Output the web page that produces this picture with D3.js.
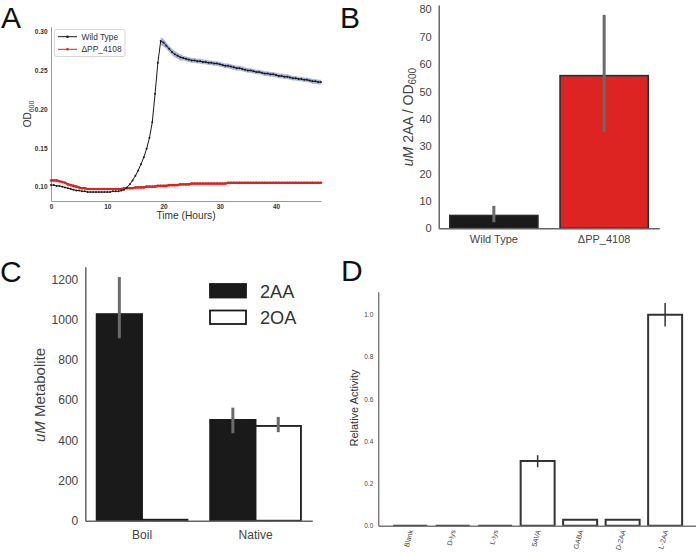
<!DOCTYPE html>
<html><head><meta charset="utf-8">
<script src="https://cdn.jsdelivr.net/npm/d3@7"></script>
<style>body{margin:0;background:#fff} svg{display:block} text{font-family:"Liberation Sans",Arial,sans-serif}</style>
</head><body><svg id="c" width="696" height="555"></svg>
<script>
// ---------- Panel A data ----------
const hours = [0,0.5,1,1.5,2,2.5,3,3.5,4,4.5,5,5.5,6,6.5,7,7.5,8,8.5,9,9.5,10,10.5,11,11.5,12,12.5,13,13.5,14,14.5,15,15.5,16,16.5,17,17.5,18,18.5,19,19.5,20,20.5,21,21.5,22,22.5,23,23.5,24,24.5,25,25.5,26,26.5,27,27.5,28,28.5,29,29.5,30,30.5,31,31.5,32,32.5,33,33.5,34,34.5,35,35.5,36,36.5,37,37.5,38,38.5,39,39.5,40,40.5,41,41.5,42,42.5,43,43.5,44,44.5,45,45.5,46,46.5,47,47.5,48];
const wildType = [0.102,0.102,0.101,0.101,0.100,0.099,0.098,0.097,0.096,0.095,
 0.095,0.094,0.094,0.093,0.093,0.093,0.093,0.093,0.093,0.093,
 0.093,0.093,0.094,0.094,0.094,0.095,0.096,0.099,0.103,0.108,
 0.114,0.121,0.129,0.138,0.149,0.163,0.183,0.220,0.260,0.288,
 0.286,0.282,0.278,0.274,0.271,0.269,0.267,0.266,0.265,0.264,
 0.263,0.263,0.262,0.262,0.261,0.261,0.260,0.260,0.259,0.259,
 0.258,0.257,0.256,0.256,0.255,0.254,0.253,0.253,0.252,0.251,
 0.250,0.250,0.249,0.248,0.248,0.247,0.246,0.246,0.245,0.245,
 0.244,0.243,0.243,0.242,0.242,0.241,0.240,0.240,0.239,0.239,
 0.238,0.238,0.237,0.236,0.236,0.235,0.235];
const wildTypeSd = [0,0,0,0,0,0,0,0,0,0,0,0,0,0,0,0,0,0,0,0,0,0,0,0,0,0,0,0,0,0,0,0,0,0,0,0,0,0,0,
 0.005,0.005,0.004,0.004,0.004,0.004,0.004,0.004,
 0.003,0.003,0.003,0.003,0.003,0.003,0.003,0.003,0.003,0.003,0.003,0.003,0.003,0.003,0.003,0.003,0.003,0.003,0.003,0.003,0.003,0.003,0.003,0.003,0.003,
 0.003,0.003,0.003,0.003,0.003,0.003,0.003,0.003,0.003,0.003,0.003,0.003,0.003,0.003,0.003,0.003,0.003,0.003,0.003,0.003,0.003,0.003,0.003,0.003,0.003];
const deltaPP = [0.108,0.108,0.108,0.107,0.106,0.105,0.103,0.102,0.101,0.100,
 0.099,0.098,0.098,0.097,0.097,0.097,0.097,0.097,0.097,0.097,
 0.097,0.097,0.097,0.097,0.097,0.097,0.098,0.098,0.098,0.098,
 0.099,0.099,0.099,0.099,0.100,0.100,0.100,0.100,0.101,0.101,
 0.101,0.101,0.102,0.102,0.102,0.102,0.103,0.103,0.103,0.103,
 0.104,0.104,0.104,0.104,0.104,0.104,0.104,0.104,0.104,0.104,
 0.104,0.104,0.104,0.105,0.105,0.105,0.105,0.105,0.105,0.105,
 0.105,0.105,0.105,0.105,0.105,0.105,0.105,0.105,0.105,0.105,
 0.105,0.105,0.105,0.105,0.105,0.105,0.105,0.105,0.105,0.105,
 0.105,0.105,0.105,0.105,0.105,0.105,0.105];
const growthSeries = ["Wild Type","ΔPP_4108"];
const growthYTicks = [0.10,0.15,0.20,0.25,0.30];
const growthXTicks = [0,10,20,30,40];

// ---------- Panel B data ----------
const strains = ["Wild Type","ΔPP_4108"];
const strain2AA = [4.7, 55.8];
const strain2AALow = [2.2, 35.3];
const strain2AAHigh = [8.2, 78.0];
const strainTicks = [0,10,20,30,40,50,60,70,80];

// ---------- Panel C data ----------
const treatments = ["Boil","Native"];
const metabolites = ["2AA","2OA"];
const metab2AA = [1027, 501];
const metab2AALow = [907, 435];
const metab2AAHigh = [1211, 562];
const metab2OA = [5, 471];
const metab2OALow = [5, 440];
const metab2OAHigh = [5, 516];
const metabTicks = [0,200,400,600,800,1000,1200];

// ---------- Panel D data ----------
const substrates = ["Blank","D-lys","L-lys","5AVA","GABA","D-2AA","L-2AA"];
const activity = [0, 0, 0, 0.307, 0.028, 0.028, 1.0];
const activityLow = [0, 0, 0, 0.277, 0.028, 0.028, 0.944];
const activityHigh = [0, 0, 0, 0.334, 0.028, 0.028, 1.055];
const activityTicks = [0.0,0.2,0.4,0.6,0.8,1.0];

const svg = d3.select("#c");

function styleAxis(g, fs, color, domColor, domW){
  g.selectAll(".tick text").attr("font-size", fs).attr("fill", color).attr("font-family","Liberation Sans, Arial, sans-serif");
  g.select(".domain").attr("stroke", domColor).attr("stroke-width", domW);
}

// Panel letters
const letters = [["A",1,28],["B",340,28],["C",0,282],["D",341,281]];
svg.selectAll("text.letter").data(letters).join("text").attr("class","letter")
  .attr("x",d=>d[1]).attr("y",d=>d[2]).text(d=>d[0])
  .attr("font-family","Liberation Sans, Arial, sans-serif").attr("font-size",30).attr("fill","#111");

// ===== Panel A =====
{
  const x = d3.scaleLinear().domain([0,48]).range([51,321]);
  const y = d3.scaleLinear().domain([0.0815,0.3065]).range([201,26.7]);
  const g = svg.append("g");
  const gy = g.append("g").attr("transform","translate(51,0)")
    .call(d3.axisLeft(y).tickValues(growthYTicks).tickSize(0).tickPadding(3.5).tickFormat(d3.format(".2f")));
  styleAxis(gy, 6.5, "#333", "#999", 1);
  gy.selectAll(".tick text").attr("font-weight","bold");
  const gx = g.append("g").attr("transform","translate(0,201)")
    .call(d3.axisBottom(x).tickValues(growthXTicks).tickSize(0).tickPadding(3.5));
  styleAxis(gx, 6.5, "#333", "#999", 1);
  gx.selectAll(".tick text").attr("font-weight","bold");

  const band = hours.map((h,i)=>({h, lo: wildType[i]-wildTypeSd[i], hi: wildType[i]+wildTypeSd[i], s: wildTypeSd[i]})).filter(d=>d.s>0);
  g.append("path").datum(band)
    .attr("d", d3.area().x(d=>x(d.h)).y0(d=>y(d.lo)).y1(d=>y(d.hi)))
    .attr("fill","#8c9ed6").attr("opacity",0.75);

  const series = [
    {name: growthSeries[0], vals: wildType, color:"#1a1a1a", w:1, r:1},
    {name: growthSeries[1], vals: deltaPP, color:"#e3221c", w:2.2, r:1.3}
  ];
  series.slice().reverse().forEach(s=>{
    const pts = hours.map((h,i)=>[h, s.vals[i]]);
    g.append("path").datum(pts).attr("fill","none").attr("stroke",s.color).attr("stroke-width",s.w)
      .attr("d", d3.line().x(d=>x(d[0])).y(d=>y(d[1])));
    g.append("g").selectAll("circle").data(pts).join("circle")
      .attr("cx",d=>x(d[0])).attr("cy",d=>y(d[1])).attr("r",s.r).attr("fill",s.color);
  });
  // legend
  const lg = g.append("g");
  lg.append("rect").attr("x",54.5).attr("y",29.5).attr("width",70.5).attr("height",27).attr("rx",2)
    .attr("fill","#fff").attr("stroke","#ccc").attr("stroke-width",0.8);
  series.forEach((s,i)=>{
    const yy = 36.7 + i*12.6;
    lg.append("line").attr("x1",58).attr("x2",77).attr("y1",yy).attr("y2",yy).attr("stroke",s.color).attr("stroke-width",1);
    lg.append("circle").attr("cx",67.5).attr("cy",yy).attr("r",1.3).attr("fill",s.color);
    lg.append("text").attr("x",81.5).attr("y",yy+3).text(s.name).attr("font-size",8.4).attr("fill","#333");
  });
  g.append("text").attr("x",186).attr("y",218.5).attr("text-anchor","middle").attr("font-size",10.2).attr("fill","#333").text("Time (Hours)");
  const yl = g.append("text").attr("transform","translate(31,114) rotate(-90)").attr("text-anchor","middle").attr("font-size",10).attr("fill","#333");
  yl.append("tspan").text("OD");
  yl.append("tspan").attr("font-size",7).attr("dy",2.5).text("600");
}

// ===== Panel B =====
{
  const x = d3.scaleBand().domain(strains).range([438.7,659.3]).paddingInner(0.2).paddingOuter(0.1);
  const y = d3.scaleLinear().domain([0,81.6]).range([228.3,5]);
  const g = svg.append("g");
  const colors = ["#1a1a1a","#de2323"];
  g.append("g").selectAll("rect").data(strains).join("rect")
    .attr("x",d=>x(d)).attr("width",x.bandwidth())
    .attr("y",(d,i)=>y(strain2AA[i])).attr("height",(d,i)=>y(0)-y(strain2AA[i]))
    .attr("fill",(d,i)=>colors[i]).attr("stroke","#2a2a2a").attr("stroke-width",1.5);
  g.append("g").selectAll("line").data(strains).join("line")
    .attr("x1",d=>x(d)+x.bandwidth()/2).attr("x2",d=>x(d)+x.bandwidth()/2)
    .attr("y1",(d,i)=>y(strain2AALow[i])).attr("y2",(d,i)=>y(strain2AAHigh[i]))
    .attr("stroke","#6b6b6b").attr("stroke-width",3);
  const gy = g.append("g").attr("transform","translate(438.7,0)")
    .call(d3.axisLeft(y).tickValues(strainTicks).tickSize(0).tickPadding(7));
  styleAxis(gy, 11, "#444", "#666", 1.5);
  const gx = g.append("g").attr("transform","translate(0,228.3)")
    .call(d3.axisBottom(x).tickSize(0).tickPadding(7));
  styleAxis(gx, 11, "#444", "#666", 1.5);
  const yl = g.append("text").attr("transform","translate(413,117) rotate(-90)").attr("text-anchor","middle").attr("font-size",14).attr("fill","#444");
  yl.append("tspan").attr("font-style","italic").text("uM");
  yl.append("tspan").text(" 2AA / OD");
  yl.append("tspan").attr("font-size",10).attr("dy",3).text("600");
}

// ===== Panel C =====
{
  const x0 = d3.scaleBand().domain(treatments).range([85.3,312.3]).paddingInner(0.2).paddingOuter(0.1);
  const x1 = d3.scaleBand().domain(metabolites).range([0,x0.bandwidth()]);
  const y = d3.scaleLinear().domain([0,1262.6]).range([520.7,266.7]);
  const g = svg.append("g");
  const vals = [metab2AA, metab2OA], lows = [metab2AALow, metab2OALow], highs = [metab2AAHigh, metab2OAHigh];
  const fills = ["#1a1a1a","#ffffff"];
  const rows = [];
  treatments.forEach((t,ti)=>metabolites.forEach((m,mi)=>rows.push({t,m,mi,v:vals[mi][ti],lo:lows[mi][ti],hi:highs[mi][ti]})));
  g.append("g").selectAll("rect").data(rows).join("rect")
    .attr("x",d=>x0(d.t)+x1(d.m)).attr("width",x1.bandwidth())
    .attr("y",d=>y(d.v)).attr("height",d=>y(0)-y(d.v))
    .attr("fill",d=>fills[d.mi]).attr("stroke","#1a1a1a").attr("stroke-width",1.8);
  g.append("g").selectAll("line").data(rows.filter(d=>d.hi>d.lo)).join("line")
    .attr("x1",d=>x0(d.t)+x1(d.m)+x1.bandwidth()/2).attr("x2",d=>x0(d.t)+x1(d.m)+x1.bandwidth()/2)
    .attr("y1",d=>y(d.lo)).attr("y2",d=>y(d.hi)).attr("stroke","#6b6b6b").attr("stroke-width",3);
  const gy = g.append("g").attr("transform","translate(85.3,0)")
    .call(d3.axisLeft(y).tickValues(metabTicks).tickSize(0).tickPadding(7).tickFormat(d3.format("d")));
  styleAxis(gy, 12, "#444", "#666", 1.5);
  const gx = g.append("g").attr("transform","translate(0,520.7)")
    .call(d3.axisBottom(x0).tickSize(0).tickPadding(10));
  styleAxis(gx, 12, "#444", "#666", 1.5);
  const yl = g.append("text").attr("transform","translate(45,395) rotate(-90)").attr("text-anchor","middle").attr("font-size",15).attr("fill","#444");
  yl.append("tspan").attr("font-style","italic").text("uM");
  yl.append("tspan").text(" Metabolite");
  // legend
  const lg = g.append("g");
  metabolites.forEach((m,i)=>{
    const yy = 284 + i*26.5;
    lg.append("rect").attr("x",210).attr("y",yy).attr("width",36).attr("height",13.5)
      .attr("fill",fills[i]).attr("stroke","#1a1a1a").attr("stroke-width",1.8);
    lg.append("text").attr("x",260).attr("y",yy+13.5).text(m).attr("font-size",18.2).attr("fill","#333");
  });
}

// ===== Panel D =====
{
  const x = d3.scaleBand().domain(substrates).range([378.3,697]).paddingInner(0.2).paddingOuter(0.35);
  const y = d3.scaleLinear().domain([0,1.109]).range([525.7,291.7]);
  const g = svg.append("g");
  const rows = substrates.map((s,i)=>({s, v:activity[i], lo:activityLow[i], hi:activityHigh[i]}));
  g.append("g").selectAll("path").data(rows).join("path")
    .attr("d",d=>{const x0=x(d.s), w=x.bandwidth(), y0=y(0), y1=y(d.v); return `M${x0},${y0}V${y1}H${x0+w}V${y0}Z`;})
    .attr("fill","#fff").attr("stroke","#333").attr("stroke-width",2);
  g.append("g").selectAll("line").data(rows.filter(d=>d.hi>d.lo)).join("line")
    .attr("x1",d=>x(d.s)+x.bandwidth()/2).attr("x2",d=>x(d.s)+x.bandwidth()/2)
    .attr("y1",d=>y(d.lo)).attr("y2",d=>y(d.hi)).attr("stroke","#333").attr("stroke-width",1.5);
  const gy = g.append("g").attr("transform","translate(378.3,0)")
    .call(d3.axisLeft(y).tickValues(activityTicks).tickSize(0).tickPadding(5).tickFormat(d3.format(".1f")));
  styleAxis(gy, 6.5, "#444", "#444", 1);
  const gx = g.append("g").attr("transform","translate(0,525.7)")
    .call(d3.axisBottom(x).tickSize(0).tickPadding(0));
  styleAxis(gx, 7, "#444", "#777", 1.5);
  gx.selectAll(".tick text").attr("text-anchor","end").attr("dy",null).attr("y",null)
    .attr("transform","translate(3,5) rotate(-75)");
  g.append("text").attr("transform","translate(358,408) rotate(-90)").attr("text-anchor","middle")
    .attr("font-size",11).attr("fill","#333").text("Relative Activity");
}
</script></body></html>
